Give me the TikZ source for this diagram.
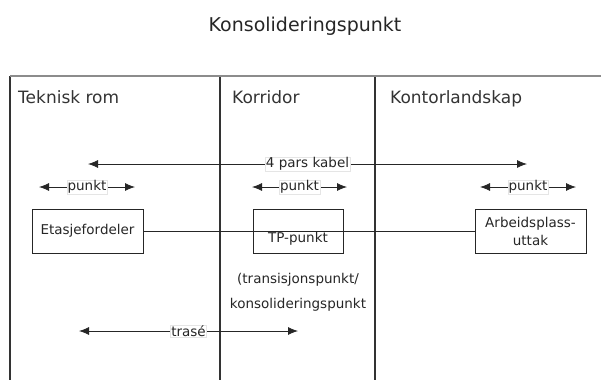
\documentclass[tikz,border=0pt]{standalone}
\usepackage{fontspec}
\setmainfont{DejaVu Sans}
\usetikzlibrary{arrows.meta}
\begin{document}
\begin{tikzpicture}[x=1pt,y=-1pt,
  wall/.style={line width=1.6pt,draw=black!80},
  thinwall/.style={line width=1.2pt,draw=black!80},
  topwall/.style={line width=2pt,draw=black!45},
  box/.style={draw=black!85,line width=0.9pt,minimum height=44pt,inner sep=0pt,font=\fontsize{13.5}{18}\selectfont,text=black!85},
  lbl/.style={fill=white,draw=black!10,line width=0.3pt,inner sep=0.8pt,font=\fontsize{13.5}{15}\selectfont,text=black!85},
  dim/.style={line width=0.8pt,draw=black!85,{Latex[length=10pt,width=8pt]}-{Latex[length=10pt,width=8pt]}},
  conn/.style={line width=0.8pt,draw=black!85},
  head/.style={anchor=base west,inner sep=0pt,font=\fontsize{17}{19}\selectfont,text=black!80},
  txt/.style={inner sep=0pt,align=center,font=\fontsize{13.5}{25}\selectfont,text=black!85}]
\useasboundingbox (0,0) rectangle (601,380);

% title
\node[inner sep=0pt,font=\fontsize{19}{22}\selectfont,text=black!85] (title) at (305,26) {Konsolideringspunkt};

% walls
\coordinate (tl) at (10,76);
\coordinate (tr) at (601,76);
\coordinate (bl) at (10,380);
\coordinate (d1t) at (220,76);
\coordinate (d1b) at (220,380);
\coordinate (d2t) at (375,76);
\coordinate (d2b) at (375,380);
\draw[wall] (tl) -- (bl);
\draw[wall] (d1t) -- (d1b);
\draw[thinwall] (d2t) -- (d2b);
\draw[topwall] (tl) -- (tr);

% headers
\node[head] (h1) at (18,103) {Teknisk rom};
\node[head] (h2) at (232,103) {Korridor};
\node[head] (h3) at (390,103) {Kontorlandskap};

% boxes
\node[box,minimum width=111pt] (etg) at (87.5,231) {Etasjefordeler};
\node[box,minimum width=90pt,text height=10pt,text depth=3pt] (tp) at (298,231) {\raisebox{-8pt}{TP-punkt}};
\node[box,minimum width=111pt,align=center] (arb) at (530.5,231) {Arbeidsplass-\\uttak};

% connector
\draw[conn] (etg.east) -- (arb.west);

% 4 pars kabel
\coordinate (k1) at (88,164);
\coordinate (k2) at (527,164);
\draw[dim] (k1) -- node[lbl] (kl) {4 pars kabel} (k2);

% punkt arrows
\coordinate (p1a) at (39,187);
\coordinate (p1b) at (135,187);
\draw[dim] (p1a) -- node[lbl] (pl1) {punkt} (p1b);
\coordinate (p2a) at (252,187);
\coordinate (p2b) at (347,187);
\draw[dim] (p2a) -- node[lbl] (pl2) {punkt} (p2b);
\coordinate (p3a) at (480,187);
\coordinate (p3b) at (576,187);
\draw[dim] (p3a) -- node[lbl] (pl3) {punkt} (p3b);

% note
\node[txt] (note) at (298,292) {(transisjonspunkt/\\konsolideringspunkt};

% trase
\coordinate (t1) at (79,331);
\coordinate (t2) at (298,331);
\draw[dim] (t1) -- node[lbl] (tl2) {trasé} (t2);
\end{tikzpicture}
\end{document}
